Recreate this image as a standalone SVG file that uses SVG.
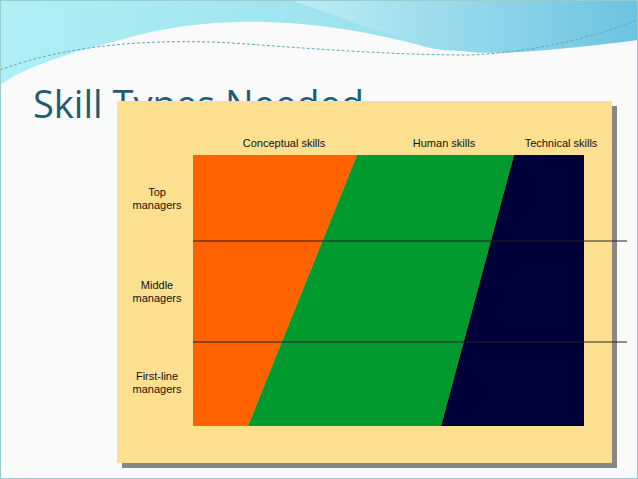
<svg xmlns="http://www.w3.org/2000/svg" width="638" height="479" viewBox="0 0 638 479">
<defs>
<linearGradient id="wave1" x1="0" y1="0" x2="1" y2="0"><stop offset="0" stop-color="#aef0f6"/><stop offset="1" stop-color="#8fd6e8"/></linearGradient>
<linearGradient id="wave2" x1="0" y1="0" x2="1" y2="0"><stop offset="0" stop-color="#bfeef6"/><stop offset="1" stop-color="#6cc3e0"/></linearGradient>
</defs>
<style>
.lbl{font-family:"Liberation Sans",Arial,sans-serif;font-size:11px;fill:#111;text-anchor:middle}
.row{stroke:#222;stroke-width:1}
</style>
<rect width="638" height="479" fill="#fafafa"/>
<g id="banner">
<path d="M0,0 H638 V20 C560,40 480,58 430,48 C330,20 220,10 120,40 C60,55 20,70 0,85 Z" fill="url(#wave1)"/>
<path d="M290,0 H638 V40 C560,50 500,55 470,52 C400,45 340,15 290,0 Z" fill="url(#wave2)"/>
<path d="M0,70 C80,40 180,38 260,45 C330,50 400,55 470,55 C540,52 600,35 638,20" fill="none" stroke="#5fa8b8" stroke-width="1" stroke-dasharray="3,2"/>
<rect x="0.5" y="0.5" width="637" height="478" fill="none" stroke="#9cc" stroke-width="1"/>
</g>
<text id="title" x="33" y="118" font-family="'Open Sans','Liberation Sans',sans-serif" font-size="38" fill="#1c5f72">Skill Types Needed</text>
<g id="chart">
<rect x="122" y="106" width="495" height="362" fill="#555" opacity="0.7"/>
<rect x="117" y="101" width="495" height="362" fill="#fde08f"/>
<polygon points="193,155 357,155 248,426 193,426" fill="#ff6200"/>
<polygon points="357,155 514,155 441,426 248,426" fill="#009a2e"/>
<polygon points="514,155 584,155 584,426 441,426" fill="#000038"/>
</g>
<g id="connectors">
<line class="row" x1="193" y1="241" x2="627" y2="241"/>
<line class="row" x1="193" y1="342" x2="627" y2="342"/>
</g>
<g id="labels">
<text class="lbl" x="284" y="147">Conceptual skills</text>
<text class="lbl" x="444" y="147">Human skills</text>
<text class="lbl" x="561" y="147">Technical skills</text>
<text class="lbl" x="157" y="196">Top</text>
<text class="lbl" x="157" y="209">managers</text>
<text class="lbl" x="157" y="289">Middle</text>
<text class="lbl" x="157" y="302">managers</text>
<text class="lbl" x="157" y="380">First-line</text>
<text class="lbl" x="157" y="393">managers</text>
</g>
</svg>
